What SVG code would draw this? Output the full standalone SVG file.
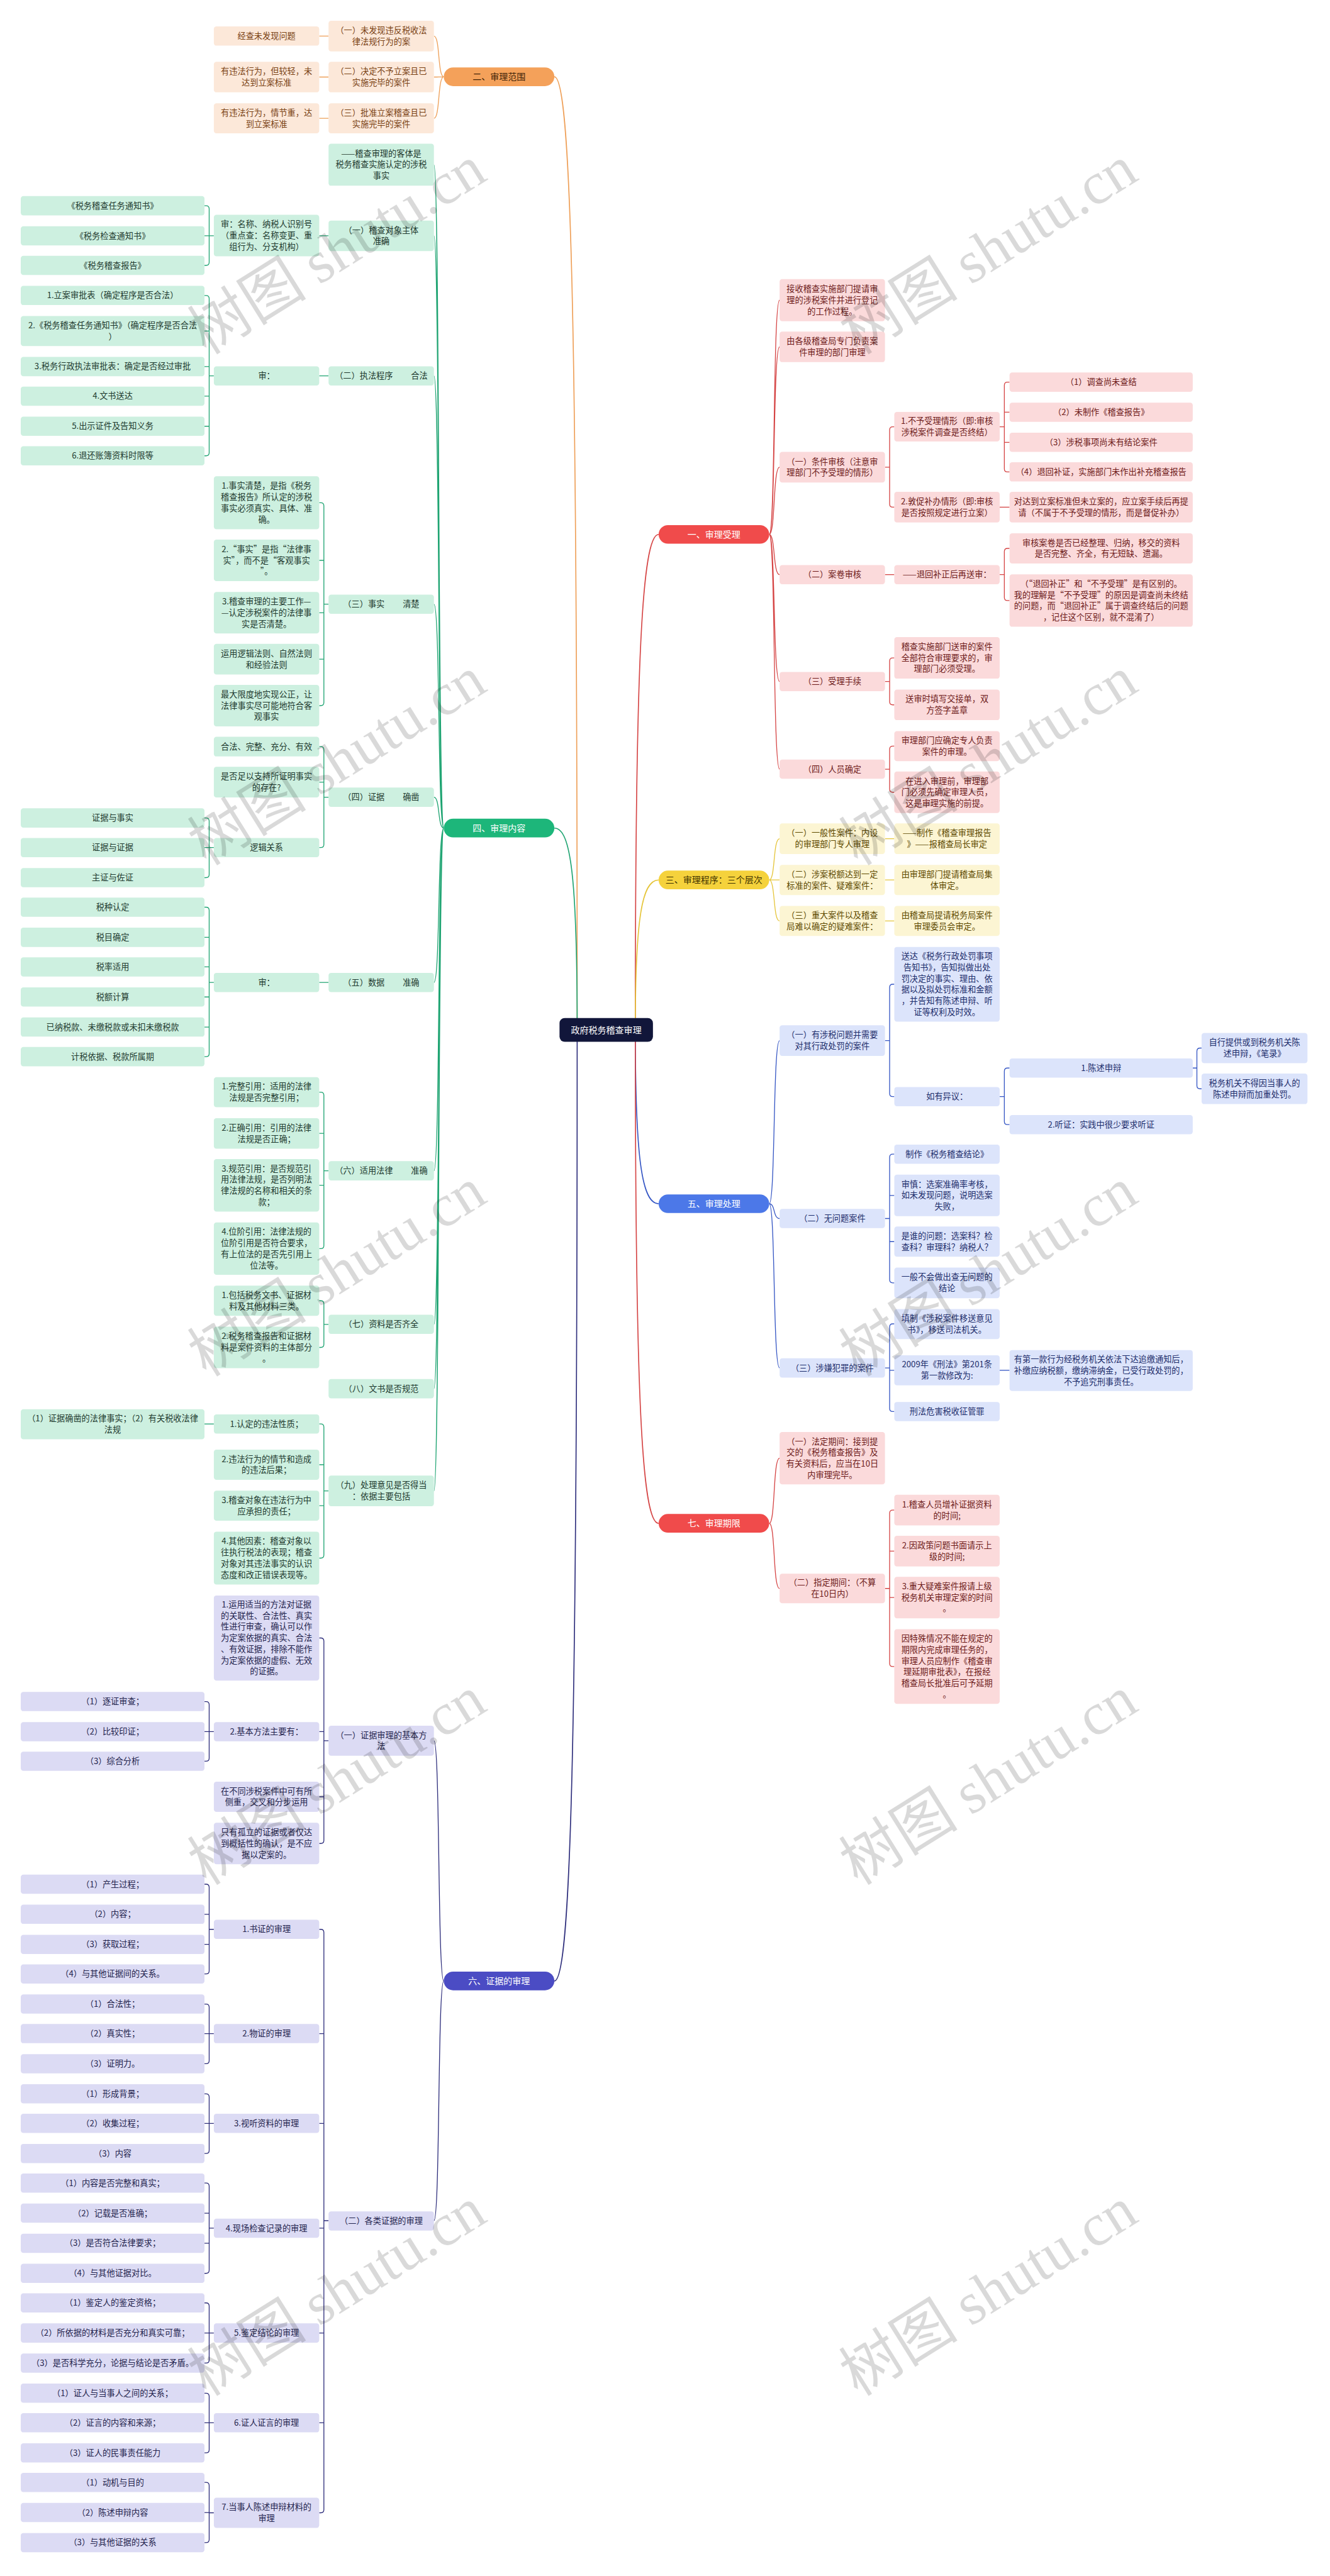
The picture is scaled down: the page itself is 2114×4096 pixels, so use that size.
<svg xmlns="http://www.w3.org/2000/svg" width="2114" height="4096" viewBox="0 0 2114 4096">
<style>
.t{font-family:"Noto Sans CJK SC","Noto Sans",sans-serif;font-size:16px;text-anchor:middle}
.m{font-size:17px}
.no{fill:#FCE8D9}.to{fill:#7A4214}
.ng{fill:#CDF0E0}.tg{fill:#1E3A2F}
.np{fill:#DCDBF4}.tp{fill:#24244E}
.nr{fill:#FBDADB}.tr{fill:#6E1A1A}
.ny{fill:#FCF5D3}.ty{fill:#5E4A00}
.nb{fill:#DCE4FB}.tb{fill:#1C2D6B}
.w{fill:#FFFFFF}
.c{fill:none;stroke-width:1.6}
.cm{fill:none;stroke-width:2}
.co{stroke:#EE9F57}.cg{stroke:#1FA472}.cp{stroke:#2E2E7C}.cr{stroke:#D54444}.cy{stroke:#E5C53A}.cb{stroke:#3556C4}
.wm{font-size:115px;fill:#000;fill-opacity:0.15;text-anchor:middle}
</style>
<rect x="0" y="0" width="2114" height="4096" fill="#FFFFFF"/>
<g transform="scale(0.825)">
<g id="connectors">
<path class="cm co" d="M1068 148 C1100 148 1112 607 1112 1985"/>
<path class="cm cg" d="M1068 1596 C1100 1596 1112 1693 1112 1985"/>
<path class="cm cp" d="M1068 3818 C1100 3818 1112 3360 1112 1985"/>
<path class="cm cr" d="M1269 1030 C1237 1030 1224 1269 1224 1985"/>
<path class="cm cy" d="M1269 1696 C1237 1696 1224 1768 1224 1985"/>
<path class="cm cb" d="M1269 2320 C1237 2320 1224 2236 1224 1985"/>
<path class="cm cr" d="M1269 2936 C1237 2936 1224 2698 1224 1985"/>
<path class="c co" d="M855 148 C843 148 848 69.5 836 69.5 M855 148 C843 148 848 148.5 836 148.5 M855 148 C843 148 848 228 836 228"/>
<path class="c co" d="M615 69.5 H633 M615 148.5 H633 M615 228 H633"/>
<path class="c cg" d="M855 1596 C843 1596 848 317.5 836 317.5 M855 1596 C843 1596 848 454.5 836 454.5 M855 1596 C843 1596 848 724.5 836 724.5 M855 1596 C843 1596 848 1164.5 836 1164.5 M855 1596 C843 1596 848 1536.5 836 1536.5 M855 1596 C843 1596 848 1893.5 836 1893.5 M855 1596 C843 1596 848 2256.5 836 2256.5 M855 1596 C843 1596 848 2552.5 836 2552.5 M855 1596 C843 1596 848 2676.5 836 2676.5 M855 1596 C843 1596 848 2873.5 836 2873.5"/>
<path class="c cg" d="M615 454.5 H633 M615 724.5 H633 M615 1893.5 H633"/>
<path class="c cg" d="M615 969 H618 Q624 969 624 975 V1354 Q624 1360 618 1360 H615 M615 1080 H624 M615 1181 H624 M615 1270.5 H624 M624 1164.5 H633"/>
<path class="c cg" d="M615 1439 H618 Q624 1439 624 1445 V1627.5 Q624 1633.5 618 1633.5 H615 M615 1507.5 H624 M624 1536.5 H633"/>
<path class="c cg" d="M615 2105 H618 Q624 2105 624 2111 V2400.5 Q624 2406.5 618 2406.5 H615 M615 2184.5 H624 M615 2284.5 H624 M624 2256.5 H633"/>
<path class="c cg" d="M615 2507 H618 Q624 2507 624 2513 V2591 Q624 2597 618 2597 H615 M624 2552.5 H633"/>
<path class="c cg" d="M615 2744.5 H618 Q624 2744.5 624 2750.5 V2997 Q624 3003 618 3003 H615 M615 2823 H624 M615 2902 H624 M624 2873.5 H633"/>
<path class="c cg" d="M394 396.5 H397 Q403 396.5 403 402.5 V505.5 Q403 511.5 397 511.5 H394 M394 454.5 H412"/>
<path class="c cg" d="M394 569.5 H397 Q403 569.5 403 575.5 V872.5 Q403 878.5 397 878.5 H394 M394 638 H403 M394 706.5 H403 M394 763.5 H403 M394 821.5 H403 M403 724.5 H412"/>
<path class="c cg" d="M394 1576.5 H397 Q403 1576.5 403 1582.5 V1685.5 Q403 1691.5 397 1691.5 H394 M394 1633.5 H412"/>
<path class="c cg" d="M394 1748.5 H397 Q403 1748.5 403 1754.5 V2030.5 Q403 2036.5 397 2036.5 H394 M394 1806.5 H403 M394 1863.5 H403 M394 1921.5 H403 M394 1979.5 H403 M403 1893.5 H412"/>
<path class="c cg" d="M394 2744.5 H412"/>
<path class="c cp" d="M855 3818 C843 3818 848 3355 836 3355 M855 3818 C843 3818 848 4280 836 4280"/>
<path class="c cp" d="M615 3157 H618 Q624 3157 624 3163 V3547 Q624 3553 618 3553 H615 M615 3337.5 H624 M615 3463 H624 M624 3355 H633"/>
<path class="c cp" d="M615 3718.5 H618 Q624 3718.5 624 3724.5 V4837 Q624 4843 618 4843 H615 M615 3919.5 H624 M615 4092.5 H624 M615 4294.5 H624 M615 4496.5 H624 M615 4669.5 H624 M624 4280 H633"/>
<path class="c cp" d="M394 3279.5 H397 Q403 3279.5 403 3285.5 V3388.5 Q403 3394.5 397 3394.5 H394 M394 3337.5 H412"/>
<path class="c cp" d="M394 3631.5 H397 Q403 3631.5 403 3637.5 V3798.5 Q403 3804.5 397 3804.5 H394 M394 3689.5 H403 M394 3747.5 H403 M403 3718.5 H412"/>
<path class="c cp" d="M394 3862.5 H397 Q403 3862.5 403 3868.5 V3971.5 Q403 3977.5 397 3977.5 H394 M394 3919.5 H412"/>
<path class="c cp" d="M394 4035.5 H397 Q403 4035.5 403 4041.5 V4144.5 Q403 4150.5 397 4150.5 H394 M394 4092.5 H412"/>
<path class="c cp" d="M394 4207.5 H397 Q403 4207.5 403 4213.5 V4375.5 Q403 4381.5 397 4381.5 H394 M394 4265.5 H403 M394 4323.5 H403 M403 4294.5 H412"/>
<path class="c cp" d="M394 4438.5 H397 Q403 4438.5 403 4444.5 V4548.5 Q403 4554.5 397 4554.5 H394 M394 4496.5 H412"/>
<path class="c cp" d="M394 4612.5 H397 Q403 4612.5 403 4618.5 V4721.5 Q403 4727.5 397 4727.5 H394 M394 4669.5 H412"/>
<path class="c cp" d="M394 4784.5 H397 Q403 4784.5 403 4790.5 V4894.5 Q403 4900.5 397 4900.5 H394 M394 4842.5 H403 M403 4843 H412"/>
<path class="c cr" d="M1482 1030 C1494 1030 1489 578.5 1502 578.5 M1482 1030 C1494 1030 1489 668.5 1502 668.5 M1482 1030 C1494 1030 1489 900.5 1502 900.5 M1482 1030 C1494 1030 1489 1107.5 1502 1107.5 M1482 1030 C1494 1030 1489 1313.5 1502 1313.5 M1482 1030 C1494 1030 1489 1482.5 1502 1482.5"/>
<path class="c cr" d="M1723 822.5 H1720 Q1714 822.5 1714 828.5 V971.5 Q1714 977.5 1720 977.5 H1723 M1705 900.5 H1714"/>
<path class="c cr" d="M1705 1107.5 H1723"/>
<path class="c cr" d="M1723 1268 H1720 Q1714 1268 1714 1274 V1352.5 Q1714 1358.5 1720 1358.5 H1723 M1705 1313.5 H1714"/>
<path class="c cr" d="M1723 1438 H1720 Q1714 1438 1714 1444 V1521 Q1714 1527 1720 1527 H1723 M1705 1482.5 H1714"/>
<path class="c cr" d="M1945 736.5 H1941 Q1935 736.5 1935 742.5 V903.5 Q1935 909.5 1941 909.5 H1945 M1935 794.5 H1945 M1935 852.5 H1945 M1926 822.5 H1935"/>
<path class="c cr" d="M1926 977.5 H1945"/>
<path class="c cr" d="M1945 1057 H1941 Q1935 1057 1935 1063 V1151.5 Q1935 1157.5 1941 1157.5 H1945 M1926 1107.5 H1935"/>
<path class="c cy" d="M1482 1696 C1494 1696 1489 1616.5 1502 1616.5 M1482 1696 C1494 1696 1489 1696 1502 1696 M1482 1696 C1494 1696 1489 1775 1502 1775"/>
<path class="c cy" d="M1705 1616.5 H1723 M1705 1696 H1723 M1705 1775 H1723"/>
<path class="c cb" d="M1482 2320 C1494 2320 1489 2005.5 1502 2005.5 M1482 2320 C1494 2320 1489 2348.5 1502 2348.5 M1482 2320 C1494 2320 1489 2636.5 1502 2636.5"/>
<path class="c cb" d="M1723 1897 H1720 Q1714 1897 1714 1903 V2107.5 Q1714 2113.5 1720 2113.5 H1723 M1705 2005.5 H1714"/>
<path class="c cb" d="M1723 2224.5 H1720 Q1714 2224.5 1714 2230.5 V2466.5 Q1714 2472.5 1720 2472.5 H1723 M1714 2304 H1723 M1714 2393 H1723 M1705 2348.5 H1714"/>
<path class="c cb" d="M1723 2551.5 H1720 Q1714 2551.5 1714 2557.5 V2714.5 Q1714 2720.5 1720 2720.5 H1723 M1714 2641 H1723 M1705 2636.5 H1714"/>
<path class="c cb" d="M1945 2058.5 H1941 Q1935 2058.5 1935 2064.5 V2161.5 Q1935 2167.5 1941 2167.5 H1945 M1926 2113.5 H1935"/>
<path class="c cb" d="M1926 2641 H1945"/>
<path class="c cb" d="M2315 2020 H2312 Q2306 2020 2306 2026 V2092.5 Q2306 2098.5 2312 2098.5 H2315 M2298 2058.5 H2306"/>
<path class="c cr" d="M1482 2936 C1494 2936 1489 2810.5 1502 2810.5 M1482 2936 C1494 2936 1489 3061.5 1502 3061.5"/>
<path class="c cr" d="M1723 2910.5 H1720 Q1714 2910.5 1714 2916.5 V3206 Q1714 3212 1720 3212 H1723 M1714 2989.5 H1723 M1714 3079 H1723 M1705 3061.5 H1714"/>
</g>

<g id="center"><rect x="1078" y="1962" width="180" height="46" rx="10" fill="#11163A"/><text class="t w" x="1168" y="1991" style="font-size:17px">政府税务稽查审理</text></g>

<g id="main-2"><rect x="855" y="130" width="213" height="36" rx="18" fill="#F4A15A"/><text class="t m" x="961.5" y="154" fill="#3F2208">二、审理范围</text></g>
<g id="main-4"><rect x="855" y="1578" width="213" height="36" rx="18" fill="#1DB67A"/><text class="t m w" x="961.5" y="1602">四、审理内容</text></g>
<g id="main-6"><rect x="855" y="3800" width="213" height="36" rx="18" fill="#4B4CC4"/><text class="t m w" x="961.5" y="3824">六、证据的审理</text></g>
<g id="main-1"><rect x="1269" y="1012" width="213" height="36" rx="18" fill="#F04B4B"/><text class="t m w" x="1375.5" y="1036">一、审理受理</text></g>
<g id="main-3"><rect x="1269" y="1678" width="213" height="36" rx="18" fill="#F5D23C"/><text class="t m" x="1375.5" y="1702" fill="#3F3200">三、审理程序：三个层次</text></g>
<g id="main-5"><rect x="1269" y="2302" width="213" height="36" rx="18" fill="#4C78E8"/><text class="t m w" x="1375.5" y="2326">五、审理处理</text></g>
<g id="main-7"><rect x="1269" y="2918" width="213" height="36" rx="18" fill="#F04B4B"/><text class="t m w" x="1375.5" y="2942">七、审理期限</text></g>

<g id="o1"><rect class="no" x="633" y="40" width="203" height="59" rx="5"/><text class="t to" x="734.5" y="64.25">（一）未发现违反税收法<tspan x="734.5" dy="21.5">律法规行为的案</tspan></text></g>
<g id="o1a"><rect class="no" x="412" y="51" width="203" height="37" rx="5"/><text class="t to" x="513.5" y="75">经查未发现问题</text></g>
<g id="o2"><rect class="no" x="633" y="119" width="203" height="59" rx="5"/><text class="t to" x="734.5" y="143.25">（二）决定不予立案且已<tspan x="734.5" dy="21.5">实施完毕的案件</tspan></text></g>
<g id="o2a"><rect class="no" x="412" y="119" width="203" height="59" rx="5"/><text class="t to" x="513.5" y="143.25">有违法行为，但较轻，未<tspan x="513.5" dy="21.5">达到立案标准</tspan></text></g>
<g id="o3"><rect class="no" x="633" y="199" width="203" height="58" rx="5"/><text class="t to" x="734.5" y="222.75">（三）批准立案稽查且已<tspan x="734.5" dy="21.5">实施完毕的案件</tspan></text></g>
<g id="o3a"><rect class="no" x="412" y="199" width="203" height="58" rx="5"/><text class="t to" x="513.5" y="222.75">有违法行为，情节重，达<tspan x="513.5" dy="21.5">到立案标准</tspan></text></g>

<g id="g0"><rect class="ng" x="633" y="277" width="203" height="81" rx="5"/><text class="t tg" x="734.5" y="301.5">——稽查审理的客体是<tspan x="734.5" dy="21.5">税务稽查实施认定的涉税</tspan><tspan x="734.5" dy="21.5">事实</tspan></text></g>
<g id="g1"><rect class="ng" x="633" y="425" width="203" height="59" rx="5"/><text class="t tg" x="734.5" y="449.25">（一）稽查对象主体<tspan x="734.5" dy="21.5">准确</tspan></text></g>
<g id="g1a"><rect class="ng" x="412" y="414" width="203" height="80" rx="5"/><text class="t tg" x="513.5" y="438">审：名称、纳税人识别号<tspan x="513.5" dy="21.5">（重点查：名称变更、重</tspan><tspan x="513.5" dy="21.5">组行为、分支机构）</tspan></text></g>
<g id="g1a1"><rect class="ng" x="40" y="378" width="354" height="37" rx="5"/><text class="t tg" x="217" y="402">《税务稽查任务通知书》</text></g>
<g id="g1a2"><rect class="ng" x="40" y="436" width="354" height="37" rx="5"/><text class="t tg" x="217" y="460">《税务检查通知书》</text></g>
<g id="g1a3"><rect class="ng" x="40" y="493" width="354" height="37" rx="5"/><text class="t tg" x="217" y="517">《税务稽查报告》</text></g>
<g id="g2"><rect class="ng" x="633" y="706" width="203" height="37" rx="5"/><text class="t tg" x="734.5" y="730">（二）执法程序<tspan dx="35">合法</tspan></text></g>
<g id="g2a"><rect class="ng" x="412" y="706" width="203" height="37" rx="5"/><text class="t tg" x="513.5" y="730">审：</text></g>
<g id="g2a1"><rect class="ng" x="40" y="551" width="354" height="37" rx="5"/><text class="t tg" x="217" y="575">1.立案审批表（确定程序是否合法）</text></g>
<g id="g2a2"><rect class="ng" x="40" y="609" width="354" height="58" rx="5"/><text class="t tg" x="217" y="632.75">2.《税务稽查任务通知书》（确定程序是否合法<tspan x="217" dy="21.5">）</tspan></text></g>
<g id="g2a3"><rect class="ng" x="40" y="688" width="354" height="37" rx="5"/><text class="t tg" x="217" y="712">3.税务行政执法审批表：确定是否经过审批</text></g>
<g id="g2a4"><rect class="ng" x="40" y="745" width="354" height="37" rx="5"/><text class="t tg" x="217" y="769">4.文书送达</text></g>
<g id="g2a5"><rect class="ng" x="40" y="803" width="354" height="37" rx="5"/><text class="t tg" x="217" y="827">5.出示证件及告知义务</text></g>
<g id="g2a6"><rect class="ng" x="40" y="860" width="354" height="37" rx="5"/><text class="t tg" x="217" y="884">6.退还账簿资料时限等</text></g>
<g id="g3"><rect class="ng" x="633" y="1146" width="203" height="37" rx="5"/><text class="t tg" x="734.5" y="1170">（三）事实<tspan dx="35">清楚</tspan></text></g>
<g id="g3a"><rect class="ng" x="412" y="918" width="203" height="102" rx="5"/><text class="t tg" x="513.5" y="942.25">1.事实清楚，是指《税务<tspan x="513.5" dy="21.5">稽查报告》所认定的涉税</tspan><tspan x="513.5" dy="21.5">事实必须真实、具体、准</tspan><tspan x="513.5" dy="21.5">确。</tspan></text></g>
<g id="g3b"><rect class="ng" x="412" y="1040" width="203" height="80" rx="5"/><text class="t tg" x="513.5" y="1064">2.“事实”是指“法律事<tspan x="513.5" dy="21.5">实”，而不是“客观事实</tspan><tspan x="513.5" dy="21.5">”。</tspan></text></g>
<g id="g3c"><rect class="ng" x="412" y="1141" width="203" height="80" rx="5"/><text class="t tg" x="513.5" y="1165">3.稽查审理的主要工作—<tspan x="513.5" dy="21.5">—认定涉税案件的法律事</tspan><tspan x="513.5" dy="21.5">实是否清楚。</tspan></text></g>
<g id="g3d"><rect class="ng" x="412" y="1241" width="203" height="59" rx="5"/><text class="t tg" x="513.5" y="1265.25">运用逻辑法则、自然法则<tspan x="513.5" dy="21.5">和经验法则</tspan></text></g>
<g id="g3e"><rect class="ng" x="412" y="1320" width="203" height="80" rx="5"/><text class="t tg" x="513.5" y="1344">最大限度地实现公正，让<tspan x="513.5" dy="21.5">法律事实尽可能地符合客</tspan><tspan x="513.5" dy="21.5">观事实</tspan></text></g>
<g id="g4"><rect class="ng" x="633" y="1518" width="203" height="37" rx="5"/><text class="t tg" x="734.5" y="1542">（四）证据<tspan dx="35">确凿</tspan></text></g>
<g id="g4a"><rect class="ng" x="412" y="1420" width="203" height="38" rx="5"/><text class="t tg" x="513.5" y="1444.5">合法、完整、充分、有效</text></g>
<g id="g4b"><rect class="ng" x="412" y="1478" width="203" height="59" rx="5"/><text class="t tg" x="513.5" y="1502.25">是否足以支持所证明事实<tspan x="513.5" dy="21.5">的存在?</tspan></text></g>
<g id="g4c"><rect class="ng" x="412" y="1615" width="203" height="37" rx="5"/><text class="t tg" x="513.5" y="1639">逻辑关系</text></g>
<g id="g4c1"><rect class="ng" x="40" y="1558" width="354" height="37" rx="5"/><text class="t tg" x="217" y="1582">证据与事实</text></g>
<g id="g4c2"><rect class="ng" x="40" y="1615" width="354" height="37" rx="5"/><text class="t tg" x="217" y="1639">证据与证据</text></g>
<g id="g4c3"><rect class="ng" x="40" y="1673" width="354" height="37" rx="5"/><text class="t tg" x="217" y="1697">主证与佐证</text></g>
<g id="g5"><rect class="ng" x="633" y="1875" width="203" height="37" rx="5"/><text class="t tg" x="734.5" y="1899">（五）数据<tspan dx="35">准确</tspan></text></g>
<g id="g5a"><rect class="ng" x="412" y="1875" width="203" height="37" rx="5"/><text class="t tg" x="513.5" y="1899">审：</text></g>
<g id="g5a1"><rect class="ng" x="40" y="1730" width="354" height="37" rx="5"/><text class="t tg" x="217" y="1754">税种认定</text></g>
<g id="g5a2"><rect class="ng" x="40" y="1788" width="354" height="37" rx="5"/><text class="t tg" x="217" y="1812">税目确定</text></g>
<g id="g5a3"><rect class="ng" x="40" y="1845" width="354" height="37" rx="5"/><text class="t tg" x="217" y="1869">税率适用</text></g>
<g id="g5a4"><rect class="ng" x="40" y="1903" width="354" height="37" rx="5"/><text class="t tg" x="217" y="1927">税额计算</text></g>
<g id="g5a5"><rect class="ng" x="40" y="1961" width="354" height="37" rx="5"/><text class="t tg" x="217" y="1985">已纳税款、未缴税款或未扣未缴税款</text></g>
<g id="g5a6"><rect class="ng" x="40" y="2018" width="354" height="37" rx="5"/><text class="t tg" x="217" y="2042">计税依据、税款所属期</text></g>
<g id="g6"><rect class="ng" x="633" y="2238" width="203" height="37" rx="5"/><text class="t tg" x="734.5" y="2262">（六）适用法律<tspan dx="35">准确</tspan></text></g>
<g id="g6a"><rect class="ng" x="412" y="2076" width="203" height="58" rx="5"/><text class="t tg" x="513.5" y="2099.75">1.完整引用：适用的法律<tspan x="513.5" dy="21.5">法规是否完整引用；</tspan></text></g>
<g id="g6b"><rect class="ng" x="412" y="2155" width="203" height="59" rx="5"/><text class="t tg" x="513.5" y="2179.25">2.正确引用：引用的法律<tspan x="513.5" dy="21.5">法规是否正确；</tspan></text></g>
<g id="g6c"><rect class="ng" x="412" y="2234" width="203" height="101" rx="5"/><text class="t tg" x="513.5" y="2257.75">3.规范引用：是否规范引<tspan x="513.5" dy="21.5">用法律法规，是否列明法</tspan><tspan x="513.5" dy="21.5">律法规的名称和相关的条</tspan><tspan x="513.5" dy="21.5">款；</tspan></text></g>
<g id="g6d"><rect class="ng" x="412" y="2356" width="203" height="101" rx="5"/><text class="t tg" x="513.5" y="2379.75">4.位阶引用：法律法规的<tspan x="513.5" dy="21.5">位阶引用是否符合要求，</tspan><tspan x="513.5" dy="21.5">有上位法的是否先引用上</tspan><tspan x="513.5" dy="21.5">位法等。</tspan></text></g>
<g id="g7"><rect class="ng" x="633" y="2534" width="203" height="37" rx="5"/><text class="t tg" x="734.5" y="2558">（七）资料是否齐全</text></g>
<g id="g7a"><rect class="ng" x="412" y="2478" width="203" height="58" rx="5"/><text class="t tg" x="513.5" y="2501.75">1.包括税务文书、证据材<tspan x="513.5" dy="21.5">料及其他材料三类。</tspan></text></g>
<g id="g7b"><rect class="ng" x="412" y="2557" width="203" height="80" rx="5"/><text class="t tg" x="513.5" y="2581">2.税务稽查报告和证据材<tspan x="513.5" dy="21.5">料是案件资料的主体部分</tspan><tspan x="513.5" dy="21.5">。</tspan></text></g>
<g id="g8"><rect class="ng" x="633" y="2658" width="203" height="37" rx="5"/><text class="t tg" x="734.5" y="2682">（八）文书是否规范</text></g>
<g id="g9"><rect class="ng" x="633" y="2844" width="203" height="59" rx="5"/><text class="t tg" x="734.5" y="2868.25">（九）处理意见是否得当<tspan x="734.5" dy="21.5">：依据主要包括</tspan></text></g>
<g id="g9a"><rect class="ng" x="412" y="2726" width="203" height="37" rx="5"/><text class="t tg" x="513.5" y="2750">1.认定的违法性质；</text></g>
<g id="g9a1"><rect class="ng" x="40" y="2716" width="354" height="58" rx="5"/><text class="t tg" x="217" y="2739.75">（1）证据确凿的法律事实；（2）有关税收法律<tspan x="217" dy="21.5">法规</tspan></text></g>
<g id="g9b"><rect class="ng" x="412" y="2794" width="203" height="58" rx="5"/><text class="t tg" x="513.5" y="2817.75">2.违法行为的情节和造成<tspan x="513.5" dy="21.5">的违法后果；</tspan></text></g>
<g id="g9c"><rect class="ng" x="412" y="2873" width="203" height="58" rx="5"/><text class="t tg" x="513.5" y="2896.75">3.稽查对象在违法行为中<tspan x="513.5" dy="21.5">应承担的责任；</tspan></text></g>
<g id="g9d"><rect class="ng" x="412" y="2952" width="203" height="102" rx="5"/><text class="t tg" x="513.5" y="2976.25">4.其他因素：稽查对象以<tspan x="513.5" dy="21.5">往执行税法的表现；稽查</tspan><tspan x="513.5" dy="21.5">对象对其违法事实的认识</tspan><tspan x="513.5" dy="21.5">态度和改正错误表现等。</tspan></text></g>

<g id="p1"><rect class="np" x="633" y="3326" width="203" height="58" rx="5"/><text class="t tp" x="734.5" y="3349.75">（一）证据审理的基本方<tspan x="734.5" dy="21.5">法</tspan></text></g>
<g id="p1a"><rect class="np" x="412" y="3075" width="203" height="164" rx="5"/><text class="t tp" x="513.5" y="3098">1.运用适当的方法对证据<tspan x="513.5" dy="21.5">的关联性、合法性、真实</tspan><tspan x="513.5" dy="21.5">性进行审查，确认可以作</tspan><tspan x="513.5" dy="21.5">为定案依据的真实、合法</tspan><tspan x="513.5" dy="21.5">、有效证据，排除不能作</tspan><tspan x="513.5" dy="21.5">为定案依据的虚假、无效</tspan><tspan x="513.5" dy="21.5">的证据。</tspan></text></g>
<g id="p1b"><rect class="np" x="412" y="3319" width="203" height="37" rx="5"/><text class="t tp" x="513.5" y="3343">2.基本方法主要有：</text></g>
<g id="p1b1"><rect class="np" x="40" y="3261" width="354" height="37" rx="5"/><text class="t tp" x="217" y="3285">（1）逐证审查；</text></g>
<g id="p1b2"><rect class="np" x="40" y="3319" width="354" height="37" rx="5"/><text class="t tp" x="217" y="3343">（2）比较印证；</text></g>
<g id="p1b3"><rect class="np" x="40" y="3376" width="354" height="37" rx="5"/><text class="t tp" x="217" y="3400">（3）综合分析</text></g>
<g id="p1c"><rect class="np" x="412" y="3434" width="203" height="58" rx="5"/><text class="t tp" x="513.5" y="3457.75">在不同涉税案件中可有所<tspan x="513.5" dy="21.5">侧重，交叉和分步运用</tspan></text></g>
<g id="p1d"><rect class="np" x="412" y="3513" width="203" height="80" rx="5"/><text class="t tp" x="513.5" y="3537">只有孤立的证据或者仅达<tspan x="513.5" dy="21.5">到概括性的确认，是不应</tspan><tspan x="513.5" dy="21.5">据以定案的。</tspan></text></g>
<g id="p2"><rect class="np" x="633" y="4262" width="203" height="37" rx="5"/><text class="t tp" x="734.5" y="4286">（二）各类证据的审理</text></g>
<g id="p2a"><rect class="np" x="412" y="3700" width="203" height="37" rx="5"/><text class="t tp" x="513.5" y="3724">1.书证的审理</text></g>
<g id="p2a1"><rect class="np" x="40" y="3613" width="354" height="37" rx="5"/><text class="t tp" x="217" y="3637">（1）产生过程；</text></g>
<g id="p2a2"><rect class="np" x="40" y="3671" width="354" height="37" rx="5"/><text class="t tp" x="217" y="3695">（2）内容；</text></g>
<g id="p2a3"><rect class="np" x="40" y="3729" width="354" height="37" rx="5"/><text class="t tp" x="217" y="3753">（3）获取过程；</text></g>
<g id="p2a4"><rect class="np" x="40" y="3786" width="354" height="37" rx="5"/><text class="t tp" x="217" y="3810">（4）与其他证据间的关系。</text></g>
<g id="p2b"><rect class="np" x="412" y="3901" width="203" height="37" rx="5"/><text class="t tp" x="513.5" y="3925">2.物证的审理</text></g>
<g id="p2b1"><rect class="np" x="40" y="3844" width="354" height="37" rx="5"/><text class="t tp" x="217" y="3868">（1）合法性；</text></g>
<g id="p2b2"><rect class="np" x="40" y="3901" width="354" height="37" rx="5"/><text class="t tp" x="217" y="3925">（2）真实性；</text></g>
<g id="p2b3"><rect class="np" x="40" y="3959" width="354" height="37" rx="5"/><text class="t tp" x="217" y="3983">（3）证明力。</text></g>
<g id="p2c"><rect class="np" x="412" y="4074" width="203" height="37" rx="5"/><text class="t tp" x="513.5" y="4098">3.视听资料的审理</text></g>
<g id="p2c1"><rect class="np" x="40" y="4017" width="354" height="37" rx="5"/><text class="t tp" x="217" y="4041">（1）形成背景；</text></g>
<g id="p2c2"><rect class="np" x="40" y="4074" width="354" height="37" rx="5"/><text class="t tp" x="217" y="4098">（2）收集过程；</text></g>
<g id="p2c3"><rect class="np" x="40" y="4132" width="354" height="37" rx="5"/><text class="t tp" x="217" y="4156">（3）内容</text></g>
<g id="p2d"><rect class="np" x="412" y="4276" width="203" height="37" rx="5"/><text class="t tp" x="513.5" y="4300">4.现场检查记录的审理</text></g>
<g id="p2d1"><rect class="np" x="40" y="4189" width="354" height="37" rx="5"/><text class="t tp" x="217" y="4213">（1）内容是否完整和真实；</text></g>
<g id="p2d2"><rect class="np" x="40" y="4247" width="354" height="37" rx="5"/><text class="t tp" x="217" y="4271">（2）记载是否准确；</text></g>
<g id="p2d3"><rect class="np" x="40" y="4305" width="354" height="37" rx="5"/><text class="t tp" x="217" y="4329">（3）是否符合法律要求；</text></g>
<g id="p2d4"><rect class="np" x="40" y="4363" width="354" height="37" rx="5"/><text class="t tp" x="217" y="4387">（4）与其他证据对比。</text></g>
<g id="p2e"><rect class="np" x="412" y="4478" width="203" height="37" rx="5"/><text class="t tp" x="513.5" y="4502">5.鉴定结论的审理</text></g>
<g id="p2e1"><rect class="np" x="40" y="4420" width="354" height="37" rx="5"/><text class="t tp" x="217" y="4444">（1）鉴定人的鉴定资格；</text></g>
<g id="p2e2"><rect class="np" x="40" y="4478" width="354" height="37" rx="5"/><text class="t tp" x="217" y="4502">（2）所依据的材料是否充分和真实可靠；</text></g>
<g id="p2e3"><rect class="np" x="40" y="4536" width="354" height="37" rx="5"/><text class="t tp" x="217" y="4560">（3）是否科学充分，论据与结论是否矛盾。</text></g>
<g id="p2f"><rect class="np" x="412" y="4651" width="203" height="37" rx="5"/><text class="t tp" x="513.5" y="4675">6.证人证言的审理</text></g>
<g id="p2f1"><rect class="np" x="40" y="4594" width="354" height="37" rx="5"/><text class="t tp" x="217" y="4618">（1）证人与当事人之间的关系；</text></g>
<g id="p2f2"><rect class="np" x="40" y="4651" width="354" height="37" rx="5"/><text class="t tp" x="217" y="4675">（2）证言的内容和来源；</text></g>
<g id="p2f3"><rect class="np" x="40" y="4709" width="354" height="37" rx="5"/><text class="t tp" x="217" y="4733">（3）证人的民事责任能力</text></g>
<g id="p2g"><rect class="np" x="412" y="4814" width="203" height="58" rx="5"/><text class="t tp" x="513.5" y="4837.75">7.当事人陈述申辩材料的<tspan x="513.5" dy="21.5">审理</tspan></text></g>
<g id="p2g1"><rect class="np" x="40" y="4766" width="354" height="37" rx="5"/><text class="t tp" x="217" y="4790">（1）动机与目的</text></g>
<g id="p2g2"><rect class="np" x="40" y="4824" width="354" height="37" rx="5"/><text class="t tp" x="217" y="4848">（2）陈述申辩内容</text></g>
<g id="p2g3"><rect class="np" x="40" y="4882" width="354" height="37" rx="5"/><text class="t tp" x="217" y="4906">（3）与其他证据的关系</text></g>

<g id="r1"><rect class="nr" x="1502" y="538" width="203" height="81" rx="5"/><text class="t tr" x="1603.5" y="562.5">接收稽查实施部门提请审<tspan x="1603.5" dy="21.5">理的涉税案件并进行登记</tspan><tspan x="1603.5" dy="21.5">的工作过程。</tspan></text></g>
<g id="r2"><rect class="nr" x="1502" y="639" width="203" height="59" rx="5"/><text class="t tr" x="1603.5" y="663.25">由各级稽查局专门负责案<tspan x="1603.5" dy="21.5">件审理的部门审理</tspan></text></g>
<g id="r3"><rect class="nr" x="1502" y="871" width="203" height="59" rx="5"/><text class="t tr" x="1603.5" y="895.25">（一）条件审核（注意审<tspan x="1603.5" dy="21.5">理部门不予受理的情形）</tspan></text></g>
<g id="r3a"><rect class="nr" x="1723" y="794" width="203" height="57" rx="5"/><text class="t tr" x="1824.5" y="817.25">1.不予受理情形（即:审核<tspan x="1824.5" dy="21.5">涉税案件调查是否终结）</tspan></text></g>
<g id="r3a1"><rect class="nr" x="1945" y="718" width="353" height="37" rx="5"/><text class="t tr" x="2121.5" y="742">（1）调查尚未查结</text></g>
<g id="r3a2"><rect class="nr" x="1945" y="776" width="353" height="37" rx="5"/><text class="t tr" x="2121.5" y="800">（2）未制作《稽查报告》</text></g>
<g id="r3a3"><rect class="nr" x="1945" y="834" width="353" height="37" rx="5"/><text class="t tr" x="2121.5" y="858">（3）涉税事项尚未有结论案件</text></g>
<g id="r3a4"><rect class="nr" x="1945" y="891" width="353" height="37" rx="5"/><text class="t tr" x="2121.5" y="915">（4）退回补证，实施部门未作出补充稽查报告</text></g>
<g id="r3b"><rect class="nr" x="1723" y="948" width="203" height="59" rx="5"/><text class="t tr" x="1824.5" y="972.25">2.敦促补办情形（即:审核<tspan x="1824.5" dy="21.5">是否按照规定进行立案）</tspan></text></g>
<g id="r3b1"><rect class="nr" x="1945" y="948" width="353" height="59" rx="5"/><text class="t tr" x="2121.5" y="972.25">对达到立案标准但未立案的，应立案手续后再提<tspan x="2121.5" dy="21.5">请（不属于不予受理的情形，而是督促补办）</tspan></text></g>
<g id="r4"><rect class="nr" x="1502" y="1089" width="203" height="37" rx="5"/><text class="t tr" x="1603.5" y="1113">（二）案卷审核</text></g>
<g id="r4a"><rect class="nr" x="1723" y="1089" width="203" height="37" rx="5"/><text class="t tr" x="1824.5" y="1113">——退回补正后再送审：</text></g>
<g id="r4a1"><rect class="nr" x="1945" y="1028" width="353" height="58" rx="5"/><text class="t tr" x="2121.5" y="1051.75">审核案卷是否已经整理、归纳，移交的资料<tspan x="2121.5" dy="21.5">是否完整、齐全，有无短缺、遗漏。</tspan></text></g>
<g id="r4a2"><rect class="nr" x="1945" y="1107" width="353" height="101" rx="5"/><text class="t tr" x="2121.5" y="1130.75">（“退回补正”和“不予受理”是有区别的。<tspan x="2121.5" dy="21.5">我的理解是“不予受理”的原因是调查尚未终结</tspan><tspan x="2121.5" dy="21.5">的问题，而“退回补正”属于调查终结后的问题</tspan><tspan x="2121.5" dy="21.5">，记住这个区别，就不混淆了）</tspan></text></g>
<g id="r5"><rect class="nr" x="1502" y="1295" width="203" height="37" rx="5"/><text class="t tr" x="1603.5" y="1319">（三）受理手续</text></g>
<g id="r5a"><rect class="nr" x="1723" y="1228" width="203" height="80" rx="5"/><text class="t tr" x="1824.5" y="1252">稽查实施部门送审的案件<tspan x="1824.5" dy="21.5">全部符合审理要求的，审</tspan><tspan x="1824.5" dy="21.5">理部门必须受理。</tspan></text></g>
<g id="r5b"><rect class="nr" x="1723" y="1329" width="203" height="59" rx="5"/><text class="t tr" x="1824.5" y="1353.25">送审时填写交接单，双<tspan x="1824.5" dy="21.5">方签字盖章</tspan></text></g>
<g id="r6"><rect class="nr" x="1502" y="1464" width="203" height="37" rx="5"/><text class="t tr" x="1603.5" y="1488">（四）人员确定</text></g>
<g id="r6a"><rect class="nr" x="1723" y="1409" width="203" height="58" rx="5"/><text class="t tr" x="1824.5" y="1432.75">审理部门应确定专人负责<tspan x="1824.5" dy="21.5">案件的审理。</tspan></text></g>
<g id="r6b"><rect class="nr" x="1723" y="1487" width="203" height="80" rx="5"/><text class="t tr" x="1824.5" y="1511">在进入审理前，审理部<tspan x="1824.5" dy="21.5">门必须先确定审理人员，</tspan><tspan x="1824.5" dy="21.5">这是审理实施的前提。</tspan></text></g>

<g id="y1"><rect class="ny" x="1502" y="1587" width="203" height="59" rx="5"/><text class="t ty" x="1603.5" y="1611.25">（一）一般性案件：内设<tspan x="1603.5" dy="21.5">的审理部门专人审理</tspan></text></g>
<g id="y1a"><rect class="ny" x="1723" y="1587" width="203" height="59" rx="5"/><text class="t ty" x="1824.5" y="1611.25">——制作《稽查审理报告<tspan x="1824.5" dy="21.5">》——报稽查局长审定</tspan></text></g>
<g id="y2"><rect class="ny" x="1502" y="1667" width="203" height="58" rx="5"/><text class="t ty" x="1603.5" y="1690.75">（二）涉案税额达到一定<tspan x="1603.5" dy="21.5">标准的案件、疑难案件：</tspan></text></g>
<g id="y2a"><rect class="ny" x="1723" y="1667" width="203" height="58" rx="5"/><text class="t ty" x="1824.5" y="1690.75">由审理部门提请稽查局集<tspan x="1824.5" dy="21.5">体审定。</tspan></text></g>
<g id="y3"><rect class="ny" x="1502" y="1746" width="203" height="58" rx="5"/><text class="t ty" x="1603.5" y="1769.75">（三）重大案件以及稽查<tspan x="1603.5" dy="21.5">局难以确定的疑难案件：</tspan></text></g>
<g id="y3a"><rect class="ny" x="1723" y="1746" width="203" height="58" rx="5"/><text class="t ty" x="1824.5" y="1769.75">由稽查局提请税务局案件<tspan x="1824.5" dy="21.5">审理委员会审定。</tspan></text></g>

<g id="b1"><rect class="nb" x="1502" y="1976" width="203" height="59" rx="5"/><text class="t tb" x="1603.5" y="2000.25">（一）有涉税问题并需要<tspan x="1603.5" dy="21.5">对其行政处罚的案件</tspan></text></g>
<g id="b1a"><rect class="nb" x="1723" y="1825" width="203" height="144" rx="5"/><text class="t tb" x="1824.5" y="1848.75">送达《税务行政处罚事项<tspan x="1824.5" dy="21.5">告知书》，告知拟做出处</tspan><tspan x="1824.5" dy="21.5">罚决定的事实、理由、依</tspan><tspan x="1824.5" dy="21.5">据以及拟处罚标准和金额</tspan><tspan x="1824.5" dy="21.5">，并告知有陈述申辩、听</tspan><tspan x="1824.5" dy="21.5">证等权利及时效。</tspan></text></g>
<g id="b1b"><rect class="nb" x="1723" y="2095" width="203" height="37" rx="5"/><text class="t tb" x="1824.5" y="2119">如有异议：</text></g>
<g id="b1b1"><rect class="nb" x="1945" y="2040" width="353" height="37" rx="5"/><text class="t tb" x="2121.5" y="2064">1.陈述申辩</text></g>
<g id="b1b1a"><rect class="nb" x="2315" y="1991" width="204" height="58" rx="5"/><text class="t tb" x="2417" y="2014.75">自行提供或到税务机关陈<tspan x="2417" dy="21.5">述申辩，《笔录》</tspan></text></g>
<g id="b1b1b"><rect class="nb" x="2315" y="2069" width="204" height="59" rx="5"/><text class="t tb" x="2417" y="2093.25">税务机关不得因当事人的<tspan x="2417" dy="21.5">陈述申辩而加重处罚。</tspan></text></g>
<g id="b1b2"><rect class="nb" x="1945" y="2149" width="353" height="37" rx="5"/><text class="t tb" x="2121.5" y="2173">2.听证：实践中很少要求听证</text></g>
<g id="b2"><rect class="nb" x="1502" y="2330" width="203" height="37" rx="5"/><text class="t tb" x="1603.5" y="2354">（二）无问题案件</text></g>
<g id="b2a"><rect class="nb" x="1723" y="2206" width="203" height="37" rx="5"/><text class="t tb" x="1824.5" y="2230">制作《税务稽查结论》</text></g>
<g id="b2b"><rect class="nb" x="1723" y="2264" width="203" height="80" rx="5"/><text class="t tb" x="1824.5" y="2288">审慎：选案准确率考核，<tspan x="1824.5" dy="21.5">如未发现问题，说明选案</tspan><tspan x="1824.5" dy="21.5">失败，</tspan></text></g>
<g id="b2c"><rect class="nb" x="1723" y="2364" width="203" height="58" rx="5"/><text class="t tb" x="1824.5" y="2387.75">是谁的问题：选案科？检<tspan x="1824.5" dy="21.5">查科？审理科？纳税人？</tspan></text></g>
<g id="b2d"><rect class="nb" x="1723" y="2443" width="203" height="59" rx="5"/><text class="t tb" x="1824.5" y="2467.25">一般不会做出查无问题的<tspan x="1824.5" dy="21.5">结论</tspan></text></g>
<g id="b3"><rect class="nb" x="1502" y="2618" width="203" height="37" rx="5"/><text class="t tb" x="1603.5" y="2642">（三）涉嫌犯罪的案件</text></g>
<g id="b3a"><rect class="nb" x="1723" y="2523" width="203" height="58" rx="5"/><text class="t tb" x="1824.5" y="2546.75">填制《涉税案件移送意见<tspan x="1824.5" dy="21.5">书》，移送司法机关。</tspan></text></g>
<g id="b3b"><rect class="nb" x="1723" y="2612" width="203" height="58" rx="5"/><text class="t tb" x="1824.5" y="2635.75">2009年《刑法》第201条<tspan x="1824.5" dy="21.5">第一款修改为:</tspan></text></g>
<g id="b3b1"><rect class="nb" x="1945" y="2602" width="353" height="79" rx="5"/><text class="t tb" x="2121.5" y="2625.5">有第一款行为经税务机关依法下达追缴通知后，<tspan x="2121.5" dy="21.5">补缴应纳税额，缴纳滞纳金，已受行政处罚的，</tspan><tspan x="2121.5" dy="21.5">不予追究刑事责任。</tspan></text></g>
<g id="b3c"><rect class="nb" x="1723" y="2702" width="203" height="37" rx="5"/><text class="t tb" x="1824.5" y="2726">刑法危害税收征管罪</text></g>

<g id="s1"><rect class="nr" x="1502" y="2760" width="203" height="101" rx="5"/><text class="t tr" x="1603.5" y="2783.75">（一）法定期间：接到提<tspan x="1603.5" dy="21.5">交的《税务稽查报告》及</tspan><tspan x="1603.5" dy="21.5">有关资料后，应当在10日</tspan><tspan x="1603.5" dy="21.5">内审理完毕。</tspan></text></g>
<g id="s2"><rect class="nr" x="1502" y="3033" width="203" height="57" rx="5"/><text class="t tr" x="1603.5" y="3056.25">（二）指定期间：（不算<tspan x="1603.5" dy="21.5">在10日内）</tspan></text></g>
<g id="s2a"><rect class="nr" x="1723" y="2881" width="203" height="59" rx="5"/><text class="t tr" x="1824.5" y="2905.25">1.稽查人员增补证据资料<tspan x="1824.5" dy="21.5">的时间;</tspan></text></g>
<g id="s2b"><rect class="nr" x="1723" y="2960" width="203" height="59" rx="5"/><text class="t tr" x="1824.5" y="2984.25">2.因政策问题书面请示上<tspan x="1824.5" dy="21.5">级的时间;</tspan></text></g>
<g id="s2c"><rect class="nr" x="1723" y="3039" width="203" height="80" rx="5"/><text class="t tr" x="1824.5" y="3063">3.重大疑难案件报请上级<tspan x="1824.5" dy="21.5">税务机关审理定案的时间</tspan><tspan x="1824.5" dy="21.5">。</tspan></text></g>
<g id="s2d"><rect class="nr" x="1723" y="3140" width="203" height="144" rx="5"/><text class="t tr" x="1824.5" y="3163.75">因特殊情况不能在规定的<tspan x="1824.5" dy="21.5">期限内完成审理任务的，</tspan><tspan x="1824.5" dy="21.5">审理人员应制作《稽查审</tspan><tspan x="1824.5" dy="21.5">理延期审批表》，在报经</tspan><tspan x="1824.5" dy="21.5">稽查局长批准后可予延期</tspan><tspan x="1824.5" dy="21.5">。</tspan></text></g>

<g id="watermarks">
<text class="wm" transform="translate(670 515) rotate(-32)"><tspan font-family="Noto Sans CJK SC, sans-serif">树图 </tspan><tspan font-family="Liberation Serif, serif">shutu.cn</tspan></text>
<text class="wm" transform="translate(1925 515) rotate(-32)"><tspan font-family="Noto Sans CJK SC, sans-serif">树图 </tspan><tspan font-family="Liberation Serif, serif">shutu.cn</tspan></text>
<text class="wm" transform="translate(670 1500) rotate(-32)"><tspan font-family="Noto Sans CJK SC, sans-serif">树图 </tspan><tspan font-family="Liberation Serif, serif">shutu.cn</tspan></text>
<text class="wm" transform="translate(1925 1500) rotate(-32)"><tspan font-family="Noto Sans CJK SC, sans-serif">树图 </tspan><tspan font-family="Liberation Serif, serif">shutu.cn</tspan></text>
<text class="wm" transform="translate(670 2485) rotate(-32)"><tspan font-family="Noto Sans CJK SC, sans-serif">树图 </tspan><tspan font-family="Liberation Serif, serif">shutu.cn</tspan></text>
<text class="wm" transform="translate(1925 2485) rotate(-32)"><tspan font-family="Noto Sans CJK SC, sans-serif">树图 </tspan><tspan font-family="Liberation Serif, serif">shutu.cn</tspan></text>
<text class="wm" transform="translate(670 3465) rotate(-32)"><tspan font-family="Noto Sans CJK SC, sans-serif">树图 </tspan><tspan font-family="Liberation Serif, serif">shutu.cn</tspan></text>
<text class="wm" transform="translate(1925 3465) rotate(-32)"><tspan font-family="Noto Sans CJK SC, sans-serif">树图 </tspan><tspan font-family="Liberation Serif, serif">shutu.cn</tspan></text>
<text class="wm" transform="translate(670 4450) rotate(-32)"><tspan font-family="Noto Sans CJK SC, sans-serif">树图 </tspan><tspan font-family="Liberation Serif, serif">shutu.cn</tspan></text>
<text class="wm" transform="translate(1925 4450) rotate(-32)"><tspan font-family="Noto Sans CJK SC, sans-serif">树图 </tspan><tspan font-family="Liberation Serif, serif">shutu.cn</tspan></text>
</g>
</g>
</svg>
